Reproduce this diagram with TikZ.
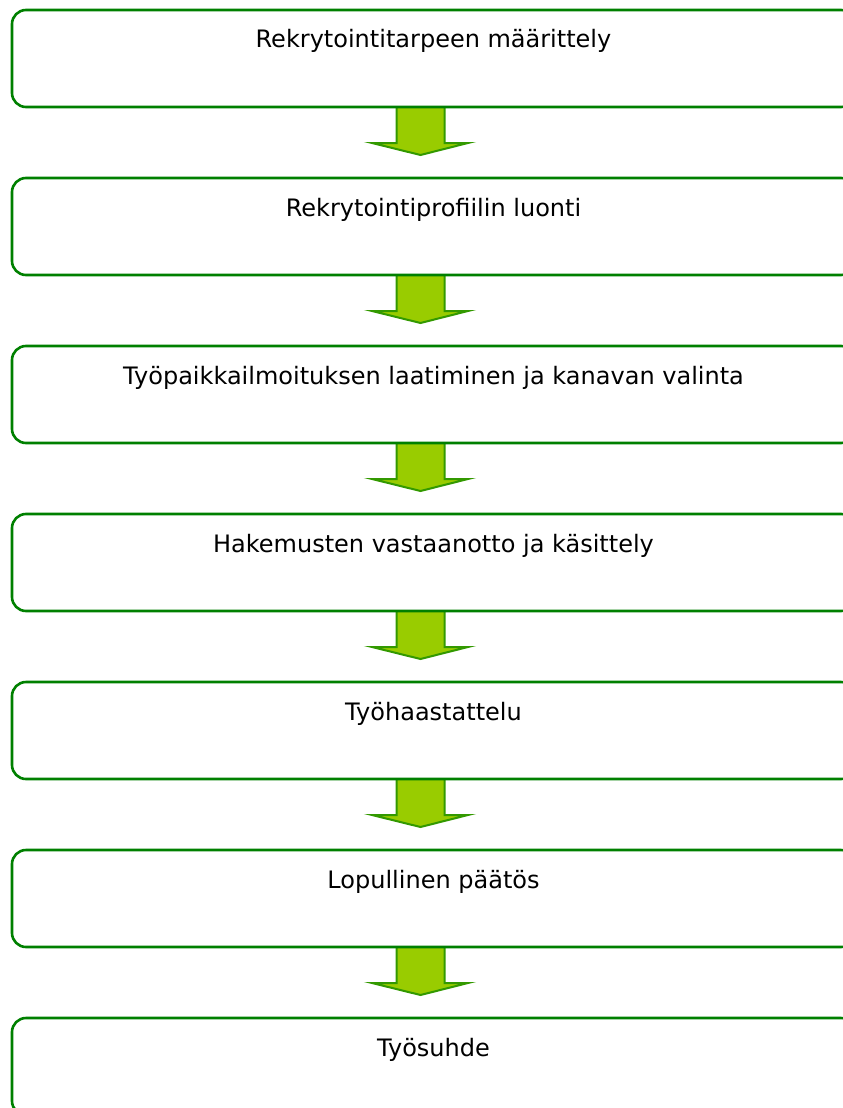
\documentclass[tikz,border=0pt]{standalone}
\usepackage{fontspec}
\setmainfont{DejaVu Sans}
\usetikzlibrary{calc}
\definecolor{boxline}{RGB}{0,128,0}
\definecolor{arrowfill}{RGB}{153,204,0}
\definecolor{arrowline}{RGB}{51,153,0}
\tikzset{
  stepbox/.style={draw=boxline, line width=2.6pt, rounded corners=14pt,
    minimum width=843pt, minimum height=97pt, inner sep=0pt, outer sep=0pt},
  steptext/.style={anchor=base, inner sep=0pt,
    font=\fontsize{24pt}{28pt}\selectfont},
  flowarrow/.style={fill=arrowfill, draw=arrowline, line width=2pt, line join=miter}
}
\begin{document}
\begin{tikzpicture}[x=1pt, y=-1pt]
  \useasboundingbox (0,0) rectangle (843,1108);
  \clip (0,0) rectangle (843,1108);
  % top centre of each step box
  \foreach \i in {1,...,7} {
    \pgfmathsetmacro{\top}{10+168*(\i-1)}
    \coordinate (c\i) at (433.5,\top);
  }
  % block arrows between consecutive steps (drawn first, boxes overlap their tops)
  \foreach \i in {1,...,6} {
    \coordinate (a\i) at ($(c\i)+(-13,97)$);
    \draw[flowarrow] ($(a\i)+(-24,0)$) -- ($(a\i)+(-24,36)$) -- ($(a\i)+(-48.5,36)$)
      -- ($(a\i)+(0,48)$) -- ($(a\i)+(47.5,36)$) -- ($(a\i)+(24,36)$)
      -- ($(a\i)+(24,0)$);
  }
  % step boxes with their titles
  \foreach \i/\txt in {1/Rekrytointitarpeen määrittely,
                       2/Rekrytointiprofiilin luonti,
                       3/Työpaikkailmoituksen laatiminen ja kanavan valinta,
                       4/Hakemusten vastaanotto ja käsittely,
                       5/Työhaastattelu,
                       6/Lopullinen päätös,
                       7/Työsuhde} {
    \node[stepbox, anchor=north] (b\i) at (c\i) {};
    \node[steptext] (t\i) at ($(b\i.north)+(0,38)$) {\txt};
  }
\end{tikzpicture}
\end{document}
